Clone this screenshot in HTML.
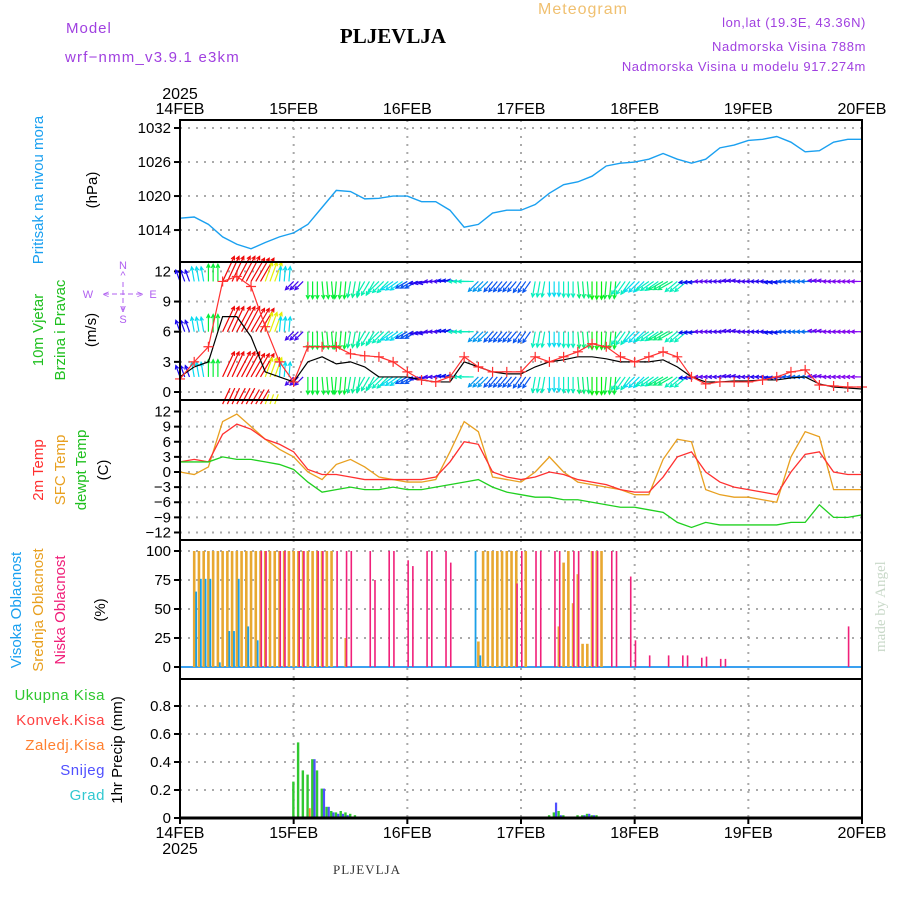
<!DOCTYPE html>
<html><head><meta charset="utf-8"><style>
html,body{margin:0;padding:0;background:#fff}
svg{display:block;font-family:"Liberation Sans",sans-serif}
</style></head><body>
<svg id="chart" width="900" height="900" viewBox="0 0 900 900" xmlns="http://www.w3.org/2000/svg">
<g id="texts">
<text x="66" y="33" fill="#a040e0" font-size="15" letter-spacing="1">Model</text>
<text x="65" y="62" fill="#a040e0" font-size="15" letter-spacing="1.2">wrf−nmm_v3.9.1  e3km</text>
<text x="393" y="43" text-anchor="middle" font-family="Liberation Serif,serif" font-weight="bold" font-size="21" fill="#000">PLJEVLJA</text>
<text x="583" y="14" text-anchor="middle" fill="#f0c070" font-size="16" letter-spacing="1">Meteogram</text>
<text x="866" y="27" text-anchor="end" fill="#a040e0" font-size="13" letter-spacing="0.6">lon,lat (19.3E, 43.36N)</text>
<text x="866" y="51" text-anchor="end" fill="#a040e0" font-size="13" letter-spacing="0.6">Nadmorska Visina 788m</text>
<text x="866" y="71" text-anchor="end" fill="#a040e0" font-size="13" letter-spacing="0.6">Nadmorska Visina u modelu 917.274m</text>
<text x="367" y="874" text-anchor="middle" font-family="Liberation Serif,serif" font-size="13" fill="#333" letter-spacing="1">PLJEVLJA</text>
<text transform="translate(885,652) rotate(-90)" fill="#c8d8c8" font-family="Liberation Serif,serif" font-size="15">made by Angel</text>
</g>
<g id="plot"></g>
</svg>
<script>
const NS='http://www.w3.org/2000/svg';
const plot=document.getElementById('plot');
function mk(tag,attrs,parent){const e=document.createElementNS(NS,tag);for(const k in attrs)e.setAttribute(k,attrs[k]);(parent||plot).appendChild(e);return e;}
// ---------- DATA ----------
const dayLabels=['14FEB','15FEB','16FEB','17FEB','18FEB','19FEB','20FEB'];
const hours3=[0,3,6,9,12,15,18,21,24,27,30,33,36,39,42,45,48,51,54,57,60,63,66,69,72,75,78,81,84,87,90,93,96,99,102,105,108,111,114,117,120,123,126,129,132,135,138,141,144];
const pressure=[1016.1,1016.3,1015.0,1012.8,1011.5,1010.7,1011.8,1012.8,1013.5,1015.0,1018.0,1021.0,1020.8,1019.5,1019.6,1020.0,1020.0,1019.0,1019.0,1017.5,1014.5,1015.0,1017.0,1017.5,1017.5,1018.5,1020.5,1022.0,1022.5,1023.5,1025.3,1025.8,1026.0,1026.5,1027.5,1026.5,1025.8,1026.5,1028.5,1029.0,1029.8,1030.0,1030.5,1029.5,1027.8,1028.0,1029.5,1030.0,1030.0];
const windSpeed=[1.3,3.0,4.5,11.0,11.5,10.5,6.5,3.0,1.0,4.5,4.5,4.5,3.8,3.6,3.5,3.0,2.0,1.2,1.0,1.5,3.5,2.5,2.0,2.0,2.0,3.5,3.0,3.5,4.0,4.8,4.5,3.5,3.0,3.5,4.0,3.5,1.5,0.8,1.0,1.0,1.0,1.2,1.5,2.0,2.2,0.7,0.6,0.5,0.5];
const windMean=[1.5,2.5,3.0,7.5,7.5,5.5,2.0,1.5,1.0,3.0,3.5,2.8,3.0,2.5,1.5,1.5,1.5,1.2,1.0,1.0,3.0,2.5,2.0,1.8,1.8,2.5,3.0,3.2,3.5,3.5,3.3,3.0,3.0,3.0,3.2,2.5,1.5,1.0,1.0,1.1,1.1,1.2,1.2,1.4,1.5,0.8,0.5,0.4,0.3];
const windDir=[-20,-10,0,25,28,30,20,5,225,180,175,185,190,210,225,235,240,260,270,275,270,225,220,220,215,190,180,180,175,180,185,215,225,235,240,230,265,270,270,275,270,270,265,270,270,275,270,270,270];
const t2m=[2,2.5,2,7.5,9.5,8.5,6.5,5.5,4,0.5,-0.5,-0.5,-1,-1.5,-1.5,-1.5,-1.5,-1.5,-1,2,6,5.5,0,-1,-1.5,-1,0,-0.5,-1.5,-2,-2.5,-3.5,-4,-4,-1,3,4,0,-2,-3,-3.5,-4,-4.5,0,3.5,4,0,-0.5,-0.5];
const tsfc=[0,-0.5,1,10,11.5,9,6.5,4.5,3,0,-1.5,1.5,2.5,1,-1,-1.5,-2,-2,-1.5,4,10,8,-1,-1.5,-2,0,3,0,-2,-2.5,-3,-3.5,-4.5,-4.5,2.5,6.5,6,-3.5,-4.5,-5,-5,-5.5,-6,3,8,7,-3.5,-3.5,-3.5];
const tdew=[2,2,2,3,2.5,2.5,2,1.5,0.5,-2,-4,-3.5,-3,-3.5,-3.5,-3,-3.5,-3.5,-3,-2.5,-2,-1.5,-3,-4,-4.5,-5,-5,-5.5,-5.5,-6,-6.5,-7,-7,-7.5,-8,-10,-11,-10,-10.5,-10.5,-10.5,-10.5,-10.5,-10,-10,-6.5,-9,-9,-8.5];
const highHours=[3,4,5,6,8,10,11,12,14,16,62,63];
const highVals=[65,76,76,76,4,31,31,76,35,23,100,10];
const midHours=[3,4,5,6,7,8,9,10,11,12,13,14,15,16,17,18,19,20,21,22,23,24,25,26,27,28,29,30,31,32,35,63,64,65,66,67,68,69,70,71,73,80,81,82,83,84,85,86,87,88,89];
const midVals=[100,100,100,100,100,100,100,100,100,100,100,100,100,100,100,100,100,100,100,100,100,100,100,100,100,100,100,100,100,100,25,22,100,100,100,100,100,100,100,100,100,35,90,100,55,80,20,20,100,100,100];
const lowHours=[17,18,21,22,25,26,29,30,33,35,36,40,41,44,45,48,49,52,53,56,57,71,72,75,76,79,80,83,84,87,88,91,92,95,96,99,103,106,107,110,111,114,115,141];
const lowVals=[100,100,100,100,100,100,100,100,100,100,100,100,75,100,100,92,87,100,100,100,90,72,100,100,100,100,100,100,100,100,100,100,100,78,23,10,10,10,10,8,9,7,7,35];
const precipHours=[19,23,24,25,26,27,28,29,30,31,32,33,34,35,36,37,38,39,76,78,79,80,81,83,84,85,86,87,88,89];
const precipTotal=[0.01,0.01,0.26,0.54,0.34,0.31,0.42,0.34,0.21,0.08,0.05,0.04,0.05,0.04,0.03,0.02,0.01,0.01,0.01,0.02,0.04,0.05,0.02,0.01,0.02,0.02,0.03,0.02,0.02,0.01];
const snowHours=[28,30,31,32,33,34,35,79,80,84,85,86,87,88];
const snowVals=[0.42,0.21,0.08,0.04,0.03,0.03,0.02,0.11,0.02,0.01,0.02,0.03,0.02,0.01];
const frzHours=[27];
const frzVals=[0.07];
const pTicks=[1014,1020,1026,1032];
const wTicks=[0,3,6,9,12];
const tTicks=[12,9,6,3,0,-3,-6,-9,-12];
const cTicks=[0,25,50,75,100];
const prTicks=[0,0.2,0.4,0.6,0.8];
// ---------- AXES ----------
const X0=180,X1=862;
const xh=h=>X0+(X1-X0)*h/144;
const panels=[{t:120,b:262},{t:262,b:400},{t:400,b:540},{t:540,b:679},{t:679,b:818}];
const yP=v=>128+(1032-v)*5.67;
const yW=v=>392-v*10.05;
const yT=v=>472-v*5.04;
const yC=v=>667-v*1.16;
const yR=v=>818-v*140;
// grid & frames
function grid(p,ticks,yf,fmt,name){
  const g=mk('g',{});
  
  
  for(let d=1;d<6;d++){const l=mk('line',{x1:xh(d*24),x2:xh(d*24),y1:p.t,y2:p.b,stroke:'#aaa','stroke-width':2,'stroke-dasharray':'2,6'},g);}
  ticks.forEach(v=>{const y=yf(v);
    if(Math.abs(y-p.t)>4&&Math.abs(y-p.b)>2) mk('line',{x1:X0,x2:X1,y1:y,y2:y,stroke:'#aaa','stroke-width':2,'stroke-dasharray':'2,6'},g);
    mk('line',{x1:X0-6,x2:X0,y1:y,y2:y,stroke:'#000','stroke-width':2},g);
    const t=mk('text',{x:X0-9,y:y+5,'text-anchor':'end','font-size':15,fill:'#000'},g);t.textContent=fmt(v);
    
    
  });
}
grid(panels[0],pTicks,yP,v=>v,'pressure');
grid(panels[1],wTicks,yW,v=>v,'wind');
grid(panels[2],tTicks,yT,v=>v<0?'−'+(-v):v,'temp');
grid(panels[3],cTicks,yC,v=>v,'cloud');
grid(panels[4],prTicks,yR,v=>v===0?'0':v.toFixed(1),'precip');
function line(xs,ys,color,w,name,dash){
  const p=mk('polyline',{points:xs.map((h,i)=>xh(h)+','+ys[i]).join(' '),fill:'none',stroke:color,'stroke-width':w||1.3});
  if(dash)p.setAttribute('stroke-dasharray',dash);
  
  
  return p;
}
// pressure
line(hours3,pressure.map(yP),'#1aa0f0',1.4,'pressure-line');
// wind arrows
const rows=[11,6,1.5];
function windColor(s){const h=Math.max(0,290-s*35);return 'hsl('+h+',95%,48%)';}
rows.forEach((lev,ri)=>{
  const g=mk('g',{});
  
  
  for(let i=0;i<hours3.length;i++){
    for(let k=0;k<3;k++){
      const h=hours3[i]+k;if(h>144)break;
      const s=windSpeed[i],a=windDir[i]*Math.PI/180,L=10+Math.min(s,12)*1.6;
      const x=xh(h),y=yW(lev),x2=x+L*Math.sin(a),y2=y-L*Math.cos(a);
      const c=windColor(s);
      const ln=mk('line',{x1:x,y1:y,x2:x2,y2:y2,stroke:c,'stroke-width':1.2},g);
      
      const b1=a+Math.PI*0.85,b2=a-Math.PI*0.85;
      mk('polyline',{points:(x2+4*Math.sin(b1))+','+(y2-4*Math.cos(b1))+' '+x2+','+y2+' '+(x2+4*Math.sin(b2))+','+(y2-4*Math.cos(b2)),fill:'none',stroke:c,'stroke-width':1.2},g);
    }
  }
});
// bottom partial arrow row (14FEB afternoon)
{const g=mk('g',{});
 for(let i=3;i<=6;i++)for(let k=0;k<3;k++){const s=windSpeed[i],a=windDir[i]*Math.PI/180,x=xh(hours3[i]+k),y=yW(-1.2),L=Math.min(18,s*1.6);
  mk('line',{x1:x,y1:y,x2:x+L*Math.sin(a),y2:y-L*Math.cos(a),stroke:windColor(s),'stroke-width':1.2},g);}}
line(hours3,windMean.map(yW),'#000',1.2,'wind-mean-line');
const ws=line(hours3,windSpeed.map(yW),'#ff3030',1.2,'wind-speed-line');
hours3.forEach((h,i)=>{const x=xh(h),y=yW(windSpeed[i]);
  const m=mk('path',{d:`M${x-5},${y}h10M${x},${y-5}v10`,stroke:'#ff3030','stroke-width':1.2});
  });
// compass
{const g=mk('g',{fill:'#b060f0','font-size':11});
 const c=(t,x,y)=>{const e=mk('text',{x,y,'text-anchor':'middle'},g);e.textContent=t;};
 c('N',123,269);c('^',123,279);c('S',123,323);c('v',123,312);c('W',88,298);c('E',153,298);
 mk('path',{d:'M104,294h38M123,282v28',stroke:'#b060f0','stroke-dasharray':'5,3',fill:'none'},g);
 c('<',106,298);c('>',140,298);}
// temperatures
line(hours3,tsfc.map(yT),'#e8a020',1.3,'sfc-temp-line');
line(hours3,t2m.map(yT),'#ff3030',1.3,'2m-temp-line');
line(hours3,tdew.map(yT),'#20d020',1.3,'dewpoint-line');
// clouds
function bars(hs,vs,color,w,off,name,yf){hs.forEach((h,i)=>{const y=yf(vs[i]),b=yf(0);
  const r=mk('rect',{x:xh(h)+off,y:y,width:w,height:Math.max(0.5,b-y),fill:color});
  });}
mk('line',{x1:X0,x2:X1,y1:yC(0),y2:yC(0),stroke:'#3aa0f0','stroke-width':2});
bars(midHours,midVals,'#e8a830',2.6,-1.3,'mid-cloud-bar',yC);
bars(lowHours,lowVals,'#f0207a',1.6,0,'low-cloud-bar',yC);
bars(highHours,highVals,'#1aa0e8',1.8,1,'high-cloud-bar',yC);
// precip
bars(precipHours,precipTotal,'#30c830',2.4,-1.5,'total-precip-bar',yR);
bars(snowHours,snowVals,'#5050ff',2.2,0.8,'snow-bar',yR);
bars(frzHours,frzVals,'#ff8030',1.8,1,'freezing-precip-bar',yR);
// frames
panels.forEach((p,i)=>{const r=mk('rect',{x:X0,y:p.t,width:X1-X0,height:p.b-p.t,fill:'none',stroke:'#000','stroke-width':2});
 });
mk('line',{x1:X0,x2:X1,y1:818,y2:818,stroke:'#000','stroke-width':3});
// x labels
dayLabels.forEach((d,i)=>{const x=xh(i*24);
 const t=mk('text',{x:x,y:114,'text-anchor':'middle','font-size':16,fill:'#000'});t.textContent=d;
 
 const b=mk('text',{x:x,y:838,'text-anchor':'middle','font-size':16,fill:'#000'});b.textContent=d;
 
 mk('line',{x1:x,x2:x,y1:818,y2:824,stroke:'#000','stroke-width':2});});
{const a=mk('text',{x:180,y:99,'text-anchor':'middle','font-size':16});a.textContent='2025';
 const b=mk('text',{x:180,y:854,'text-anchor':'middle','font-size':16});b.textContent='2025';}
// rotated side labels
function vlab(t,x,y,c,name,fs){const e=mk('text',{transform:`translate(${x},${y}) rotate(-90)`,'text-anchor':'middle',fill:c,'font-size':fs||15});e.textContent=t;
 }
vlab('Pritisak na nivou mora',43,190,'#1aa0f0','pressure-title');
vlab('(hPa)',97,190,'#000','pressure-unit');
vlab('10m Vjetar',43,330,'#20c020','wind-title-1');
vlab('Brzina i Pravac',65,330,'#20c020','wind-title-2');
vlab('(m/s)',96,330,'#000','wind-unit');
vlab('2m Temp',43,470,'#ff3030','t2m-title');
vlab('SFC Temp',65,470,'#e8a020','sfc-title');
vlab('dewpt Temp',86,470,'#20c020','dewpt-title');
vlab('(C)',108,470,'#000','temp-unit');
vlab('Visoka Oblacnost',21,610,'#1aa0f0','high-cloud-title');
vlab('Srednja Oblacnost',43,610,'#e8a020','mid-cloud-title');
vlab('Niska Oblacnost',65,610,'#f0207a','low-cloud-title');
vlab('(%)',105,610,'#000','cloud-unit');
vlab('1hr Precip (mm)',122,750,'#000','precip-title');
[['Ukupna Kisa','#30c830',700],['Konvek.Kisa','#ff4040',725],['Zaledj.Kisa','#ff8030',750],['Snijeg','#5050ff',775],['Grad','#30c8d0',800]].forEach(a=>{
 const e=mk('text',{x:105,y:a[2],'text-anchor':'end',fill:a[1],'font-size':15,'letter-spacing':0.5});e.textContent=a[0];
 });
</script>
</body></html>
